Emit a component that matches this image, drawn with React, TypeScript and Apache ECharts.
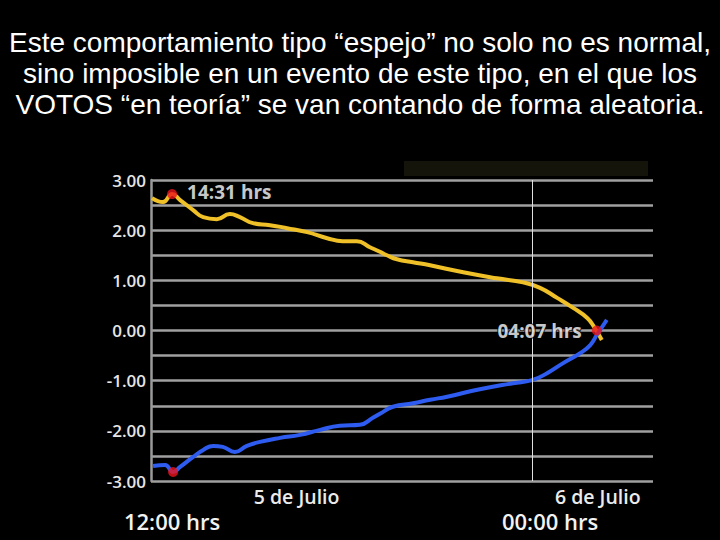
import React, { useEffect, useRef } from "react";
import * as echarts from "echarts";

const titleLines = [
  "Este comportamiento tipo “espejo” no solo no es normal,",
  "sino imposible en un evento de este tipo, en el que los",
  "VOTOS “en teoría” se van contando de forma aleatoria.",
];

// x: relative position along the time axis (0–100), y: value
const yellowX = [0.2, 2.4, 4.2, 5.8, 8.4, 10.4, 13.1, 15.7, 17.7, 20.3, 23.7, 27.1, 31.1, 35.1, 38.2, 41.0, 43.6, 45.6, 47.0, 49.0, 52.2, 55.6, 62.2, 68.9, 74.1, 77.5, 80.9, 84.1, 86.9, 88.4, 89.8];
const yellowY = [2.64, 2.56, 2.72, 2.6, 2.4, 2.26, 2.22, 2.32, 2.26, 2.14, 2.1, 2.04, 1.96, 1.84, 1.78, 1.78, 1.66, 1.57, 1.5, 1.42, 1.36, 1.3, 1.16, 1.04, 0.96, 0.85, 0.65, 0.45, 0.25, 0.05, -0.19];

const blueX = [0.4, 2.8, 4.4, 5.8, 8.4, 10.4, 12.4, 14.3, 16.7, 19.1, 21.7, 25.7, 29.7, 33.7, 37.6, 41.6, 44.2, 45.6, 48.2, 52.2, 55.6, 59.0, 65.5, 72.1, 75.9, 78.9, 82.1, 85.5, 87.5, 88.8, 90.8];
const blueY = [-2.7, -2.68, -2.82, -2.72, -2.52, -2.38, -2.3, -2.32, -2.42, -2.3, -2.22, -2.14, -2.08, -1.98, -1.9, -1.88, -1.74, -1.66, -1.52, -1.45, -1.38, -1.32, -1.17, -1.05, -0.99, -0.85, -0.65, -0.45, -0.29, -0.09, 0.21];

const markerLabels = ["14:31 hrs", "", "04:07 hrs"];
const markerX = [4.2, 4.4, 88.8];
const markerY = [2.72, -2.82, 0.0];

const dayLabels = ["5 de Julio", "6 de Julio"];
const dayX = [29, 89];
const hourLabels = ["12:00 hrs", "00:00 hrs"];
const hourX = [4.2, 79.5];
const midnightX = 75.9;

export default function App() {
  const ref = useRef<HTMLDivElement>(null);
  useEffect(() => {
    document.body.style.margin = "0";
    document.body.style.background = "#000";
    const chart = echarts.init(ref.current!, null, { renderer: "svg" });
    const L = 151, T = 180, W = 502, H = 301;
    const px = (v: number) => L + (v / 100) * W;
    const font = "'Open Sans', 'DejaVu Sans', sans-serif";
    const graphics: any[] = [];
    titleLines.forEach((t, i) => {
      graphics.push({
        type: "text",
        x: 360,
        y: 42 + i * 31,
        style: {
          text: t,
          fill: "#ffffff",
          font: "28px 'Liberation Sans', Arial, sans-serif",
          textAlign: "center",
          textVerticalAlign: "middle",
        },
      });
    });
    graphics.push({
      type: "rect",
      shape: { x: 404, y: 161, width: 244, height: 15 },
      style: { fill: "#15140a" },
    });
    dayLabels.forEach((t, i) => {
      graphics.push({
        type: "text",
        x: px(dayX[i]),
        y: 496,
        style: { text: t, fill: "#ebebeb", font: `600 19.5px ${font}`, textAlign: "center", textVerticalAlign: "middle" },
      });
    });
    hourLabels.forEach((t, i) => {
      graphics.push({
        type: "text",
        x: px(hourX[i]),
        y: 521,
        style: { text: t, fill: "#f2f2f2", font: `600 22px ${font}`, textAlign: "center", textVerticalAlign: "middle" },
      });
    });

    const markerData = markerX.map((x, i) => ({
      value: [x, markerY[i]],
      label: markerLabels[i]
        ? {
            show: true,
            formatter: markerLabels[i],
            position: i === 0 ? "right" : "left",
            distance: 10,
            offset: i === 0 ? [0, -2] : [0, 0],
            color: "#ffffff",
            fontFamily: font,
            fontWeight: 700,
            fontSize: 19,
            textBorderColor: "#000",
            textBorderWidth: i === 0 ? 0 : 2,
          }
        : { show: false },
    }));

    chart.setOption({
      animation: false,
      backgroundColor: "#000",
      grid: { left: L, top: T, width: W, height: H },
      xAxis: {
        type: "value",
        min: 0,
        max: 100,
        axisLine: { show: false },
        axisTick: { show: false },
        axisLabel: { show: false },
        splitLine: { show: false },
      },
      yAxis: {
        type: "value",
        min: -3,
        max: 3,
        interval: 0.5,
        axisLine: { show: true, lineStyle: { color: "#9a9a9a", width: 2.5 } },
        axisTick: { show: false },
        axisLabel: {
          color: "#e6e6e6",
          fontFamily: font,
          fontWeight: 600,
          fontSize: 17,
          margin: 5,
          formatter: (v: number) => (Math.abs(v % 1) < 1e-6 ? v.toFixed(2) : ""),
        },
        splitLine: { show: true, lineStyle: { color: "#a0a0a0", width: 2.5 } },
      },
      graphic: graphics,
      series: [
        {
          type: "line",
          data: [],
          markLine: {
            silent: true,
            symbol: "none",
            label: { show: false },
            lineStyle: { color: "#e0e0e0", width: 1, type: "solid" },
            data: [{ xAxis: midnightX }],
          },
        },
        {
          type: "line",
          data: yellowX.map((x, i) => [x, yellowY[i]]),
          smooth: 0.5,
          showSymbol: false,
          lineStyle: { color: "#f0c028", width: 4 },
        },
        {
          type: "line",
          data: blueX.map((x, i) => [x, blueY[i]]),
          smooth: 0.5,
          showSymbol: false,
          lineStyle: { color: "#2f5cf0", width: 4 },
        },
        {
          type: "scatter",
          data: markerData,
          symbolSize: 10,
          itemStyle: { color: "#e8141c" },
          z: 5,
        },
      ],
    });
    return () => chart.dispose();
  }, []);
  return <div ref={ref} style={{ width: 720, height: 540 }} />;
}
